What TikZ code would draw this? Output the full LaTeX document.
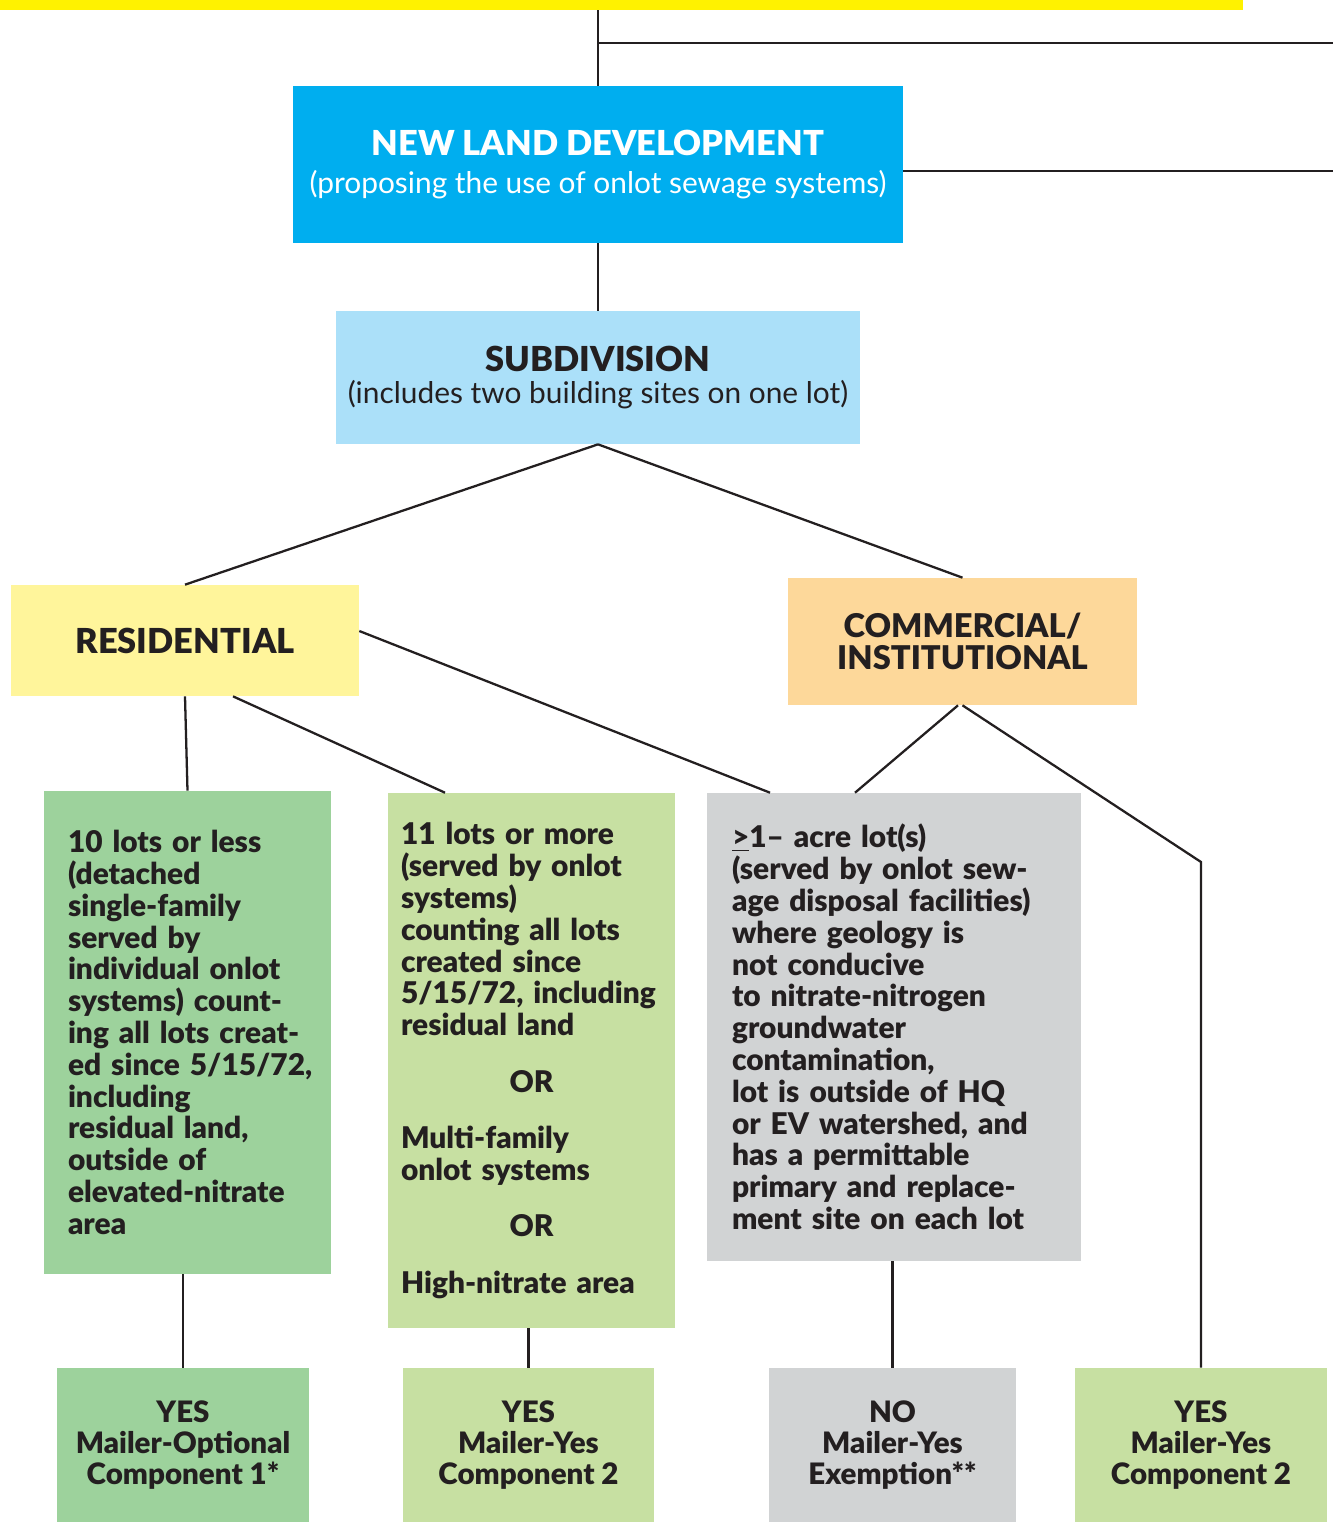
\documentclass[tikz,border=0pt]{standalone}
\usepackage{fontspec}
\IfFontExistsTF{Lato Black}{\setmainfont{Lato}[BoldFont={Lato Black}]}{\setmainfont{Lato}}
\usepackage{xcolor}
\definecolor{ink}{HTML}{231F20}
\definecolor{barYellow}{HTML}{FFF200}
\definecolor{devBlue}{HTML}{00AEEF}
\definecolor{subBlue}{HTML}{ABE0F9}
\definecolor{resYellow}{HTML}{FFF59B}
\definecolor{comOrange}{HTML}{FDD89A}
\definecolor{optGreen}{HTML}{9DD29C}
\definecolor{yesGreen}{HTML}{C7E0A2}
\definecolor{noGray}{HTML}{D1D3D4}
\tikzset{
  stage/.style={fill=#1,text=ink,align=center,inner sep=0pt,font=\bfseries\fontsize{19.6}{18.2}\selectfont},
  crit/.style={fill=#1,text=ink,align=left,inner ysep=0pt,font=\bfseries\fontsize{17}{18.1}\selectfont},
  verdict/.style={fill=#1,text=ink,align=center,inner sep=0pt,minimum height=3.08cm,font=\bfseries\fontsize{16.8}{17.6}\selectfont},
  link/.style={draw=ink,line width=1.3pt}
}
\begin{document}
\begin{tikzpicture}[x=0.02cm,y=-0.02cm]
\useasboundingbox (0,0) rectangle (1333,1522);
% top of the chart
\node[fill=barYellow,inner sep=0pt,minimum width=24.86cm,minimum height=0.2cm] (topbar) at (621.5,5) {};
\coordinate (branch) at (597,43);
\coordinate (rimA) at (1333,43);
\coordinate (rimB) at (1333,171);
\node[stage=devBlue,text=white,minimum width=12.2cm,minimum height=3.14cm] (newland) at (598,164.5)
  {NEW LAND DEVELOPMENT\\[3pt]{\mdseries\fontsize{17}{18}\selectfont(proposing the use of onlot sewage systems)}};
\node[stage=subBlue,minimum width=10.48cm,minimum height=2.66cm] (subdiv) at (598,377.5)
  {SUBDIVISION\\{\mdseries\fontsize{17}{18}\selectfont(includes two building sites on one lot)}};
\node[stage=resYellow,minimum width=6.96cm,minimum height=2.22cm] (resid) at (185,640.5) {RESIDENTIAL};
\node[stage=comOrange,font=\bfseries\fontsize{18.6}{18.2}\selectfont,minimum width=6.98cm,minimum height=2.54cm] (commer) at (962.5,641.5) {COMMERCIAL/\\INSTITUTIONAL};
% criteria
\node[crit=optGreen,text width=4.78cm,inner xsep=0.48cm,minimum height=9.66cm] (lotsA) at (187.5,1032.5)
  {10 lots or less\\(detached\\single-family\\served by\\individual onlot\\systems) count-\\ing all lots creat-\\\mbox{ed since 5/15/72,}\\including\\residual land,\\outside of\\elevated-nitrate\\area\\[4pt]};
\node[crit=yesGreen,text width=5.22cm,inner xsep=0.26cm,minimum height=10.7cm] (lotsB) at (531.5,1060.5)
  {11 lots or more\\(served by onlot\\systems)\\counting all lots\\created since\\\mbox{5/15/72, including}\\residual land\\[14pt]\makebox[\linewidth]{OR}\\[14pt]Multi-family\\onlot systems\\[14pt]\makebox[\linewidth]{OR}\\[14pt]High-nitrate area};
\node[crit=noGray,text width=6.48cm,inner xsep=0.5cm,minimum height=9.36cm] (acre) at (894,1027)
  {\underline{>}1– acre lot(s)\\(served by onlot sew-\\age disposal facilities)\\where geology is\\not conducive\\to nitrate-nitrogen\\groundwater\\contamination,\\lot is outside of HQ\\or EV watershed, and\\has a permittable\\primary and replace-\\ment site on each lot};
% outcomes
\node[verdict=optGreen,minimum width=5.04cm] (yesA) at (183,1445) {YES\\Mailer-Optional\\Component 1*};
\node[verdict=yesGreen,minimum width=5.02cm] (yesB) at (528.5,1445) {YES\\Mailer-Yes\\Component 2};
\node[verdict=noGray,minimum width=4.94cm] (noC) at (892.5,1445) {NO\\Mailer-Yes\\Exemption**};
\node[verdict=yesGreen,minimum width=5.04cm] (yesD) at (1201,1445) {YES\\Mailer-Yes\\Component 2};
\coordinate (bend) at (1201,862);
% connectors
\draw[link] (topbar.south -| newland.north) -- (newland.north);
\draw[link] (branch) -- (rimA);
\draw[link] (newland.east |- rimB) -- (rimB);
\path[link] (newland) edge (subdiv);
\draw[link] (subdiv.south) -- (resid.north);
\draw[link] (subdiv.south) -- (commer.north);
\draw[link] (resid.south) -- (lotsA.north);
\draw[link] ([xshift=0.96cm]resid.south) -- ([xshift=-1.73cm]lotsB.north);
\draw[link] ([yshift=0.19cm]resid.east) -- ([xshift=-2.48cm]acre.north);
\draw[link] ([xshift=-0.09cm]commer.south) -- ([xshift=-0.78cm]acre.north);
\draw[link] (commer.south) -- (bend) -- (yesD.north);
\draw[link] (yesA.north |- lotsA.south) -- (yesA.north);
\draw[link] (yesB.north |- lotsB.south) -- (yesB.north);
\draw[link] (noC.north |- acre.south) -- (noC.north);
\end{tikzpicture}
\end{document}
